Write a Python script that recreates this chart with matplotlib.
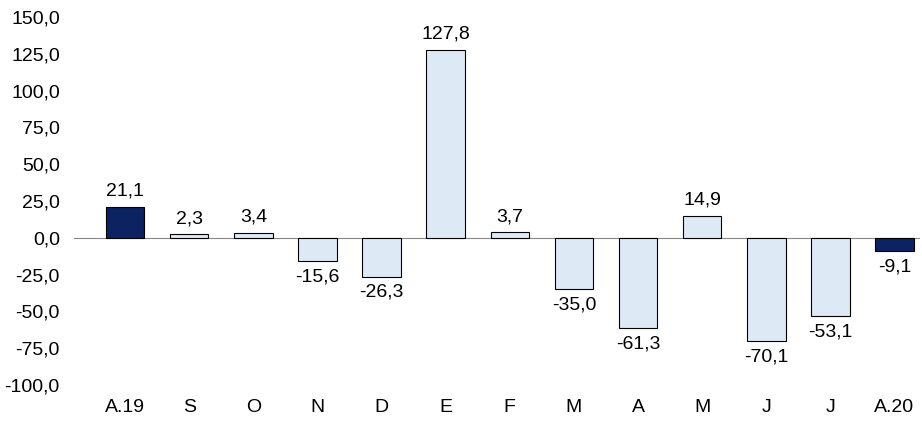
import matplotlib
matplotlib.use("Agg")
import matplotlib.pyplot as plt

plt.rcParams['font.family'] = ['Liberation Sans', 'DejaVu Sans']

categories = ["A.19", "S", "O", "N", "D", "E", "F", "M", "A", "M", "J", "J", "A.20"]
values = [21.1, 2.3, 3.4, -15.6, -26.3, 127.8, 3.7, -35.0, -61.3, 14.9, -70.1, -53.1, -9.1]

dark = "#0c2261"
light = "#dde9f5"
colors = [dark] + [light] * 11 + [dark]

fig = plt.figure(figsize=(9.22, 4.25), dpi=100)
ax = fig.add_axes([0.08, 0.094, 0.918, 0.866])

x = range(len(categories))
ax.bar(x, values, width=0.6, color=colors, edgecolor="black", linewidth=0.8, zorder=2)
ax.axhline(0, color="#888888", linewidth=0.8, zorder=1)

for i, v in enumerate(values):
    txt = f"{v:.1f}".replace(".", ",")
    if v >= 0:
        ax.text(i, v + 5, txt, ha="center", va="bottom", fontsize=14)
    else:
        ax.text(i, v - 5, txt, ha="center", va="top", fontsize=14)

ax.set_ylim(-100, 150)
ax.set_xlim(-0.8, len(categories) - 0.6)
ax.set_yticks(range(-100, 151, 25))
ax.set_yticklabels([f"{t:.1f}".replace(".", ",") for t in range(-100, 151, 25)], fontsize=14)
ax.set_xticks(list(x))
ax.set_xticklabels(categories, fontsize=14)
ax.tick_params(length=0, pad=10)
for s in ax.spines.values():
    s.set_visible(False)

fig.savefig("out.png", dpi=100)
